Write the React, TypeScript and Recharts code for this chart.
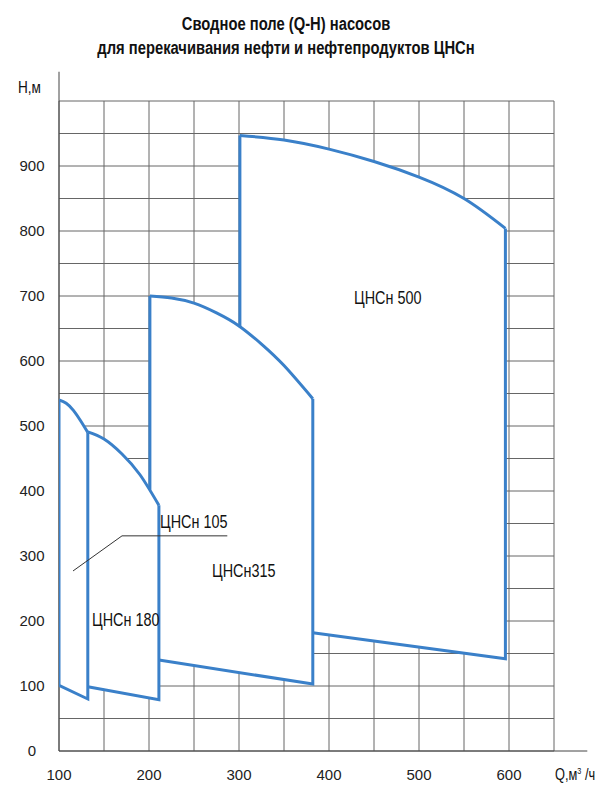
import React from 'react';
import { ComposedChart, Area, Line, XAxis, YAxis, CartesianGrid, ReferenceLine } from 'recharts';

// Q (м³/ч) points along each pump field, top (max head) and bottom (min head) in metres
const Q_105 = [100, 108, 116, 124, 132];
const TOP_105 = [540, 535, 524, 508, 490];
const BOTTOM_105 = [101, 96, 91, 85, 80];

const Q_180 = [132, 150, 170, 190, 211];
const TOP_180 = [491, 480, 457, 425, 378];
const BOTTOM_180 = [99, 94, 89, 84, 79];

const Q_315 = [201, 225, 250, 275, 300, 325, 350, 382];
const TOP_315 = [700, 697, 689, 674, 654, 626, 593, 542];
const BOTTOM_315 = [142, 137, 131, 126, 120, 115, 110, 103];

const Q_500 = [301, 350, 400, 450, 500, 550, 596];
const TOP_500 = [947, 940, 926, 907, 883, 850, 804];
const BOTTOM_500 = [197, 188, 179, 169, 160, 151, 142];

// visible straight edges [Q, H] (the parts hidden behind the next field are left out)
const EDGES: number[][][] = [
  [[301, 652], [301, 947]],
  [[596, 804], [596, 142], [382, 182]],
  [[201, 402], [201, 700]],
  [[382, 542], [382, 103], [211, 140]],
  [[211, 378], [211, 79], [132, 99]],
  [[132, 490], [132, 80], [100, 101], [100, 540]],
];

// leader line for the ЦНСн 105 caption
const LEADER = [[115.6, 277], [170, 331], [287, 331]];

const X_TICKS = [100, 150, 200, 250, 300, 350, 400, 450, 500, 550, 600, 650];
const Y_TICKS = [0, 50, 100, 150, 200, 250, 300, 350, 400, 450, 500, 550, 600, 650, 700, 750, 800, 850, 900, 950, 1000];

const BLUE = '#3a80c9';
const FONT = "'Liberation Sans', Arial, sans-serif";

const MARGIN = { top: 101, right: 41, bottom: 48, left: 58 };
const W = 595;
const H = 800;
const PLOT_BOTTOM = H - MARGIN.bottom - 1;

const band = (qs: number[], lo: number[], hi: number[]) =>
  qs.map((q, i) => ({ q, band: [lo[i], hi[i]] }));
const curve = (qs: number[], hs: number[]) => qs.map((q, i) => ({ q, h: hs[i] }));
const pts = (arr: number[][]) => arr.map(([q, h]) => ({ q, h }));

const FIELDS = [
  { q: Q_500, top: TOP_500, bottom: BOTTOM_500 },
  { q: Q_315, top: TOP_315, bottom: BOTTOM_315 },
  { q: Q_180, top: TOP_180, bottom: BOTTOM_180 },
  { q: Q_105, top: TOP_105, bottom: BOTTOM_105 },
];

const renderXTick = (p: any) => {
  const v = p.payload.value;
  if (v % 100 !== 0 || v > 600) return <g />;
  return (
    <text x={p.x} y={PLOT_BOTTOM + 29} textAnchor="middle" fontSize={15} fill="#222" fontFamily={FONT}>
      {v}
    </text>
  );
};

const renderYTick = (p: any) => {
  const v = p.payload.value;
  if (v % 100 !== 0 || v > 900) return <g />;
  return (
    <text x={32} y={p.y + 5} textAnchor="middle" fontSize={15} fill="#222" fontFamily={FONT}>
      {v}
    </text>
  );
};

const label = (left: number, top: number, size = 18): React.CSSProperties => ({
  position: 'absolute', left, top, fontSize: size, lineHeight: 1, whiteSpace: 'nowrap', color: '#111',
  transform: 'scaleX(0.8)', transformOrigin: 'left center',
});

const titleLine = (top: number): React.CSSProperties => ({
  position: 'absolute', left: 0, width: 572, top, textAlign: 'center', fontWeight: 'bold', fontSize: 18,
  lineHeight: 1, color: '#111', transform: 'scaleX(0.82)', transformOrigin: '286px center', whiteSpace: 'nowrap',
});

export default function App() {
  return (
    <div style={{ position: 'absolute', left: 0, top: 0, width: W, height: H, background: '#fff', fontFamily: FONT }}>
      <div style={titleLine(15)}>Сводное поле (Q-H) насосов</div>
      <div style={titleLine(39)}>для перекачивания нефти и нефтепродуктов ЦНСн</div>

      <ComposedChart width={W} height={H} margin={MARGIN}>
        <CartesianGrid stroke="#666" strokeWidth={1} />
        <XAxis type="number" dataKey="q" domain={[100, 650]} ticks={X_TICKS} height={1}
          axisLine={false} tickLine={false} tick={renderXTick} interval={0} allowDataOverflow />
        <YAxis type="number" domain={[0, 1000]} ticks={Y_TICKS} width={1}
          axisLine={false} tickLine={false} tick={renderYTick} interval={0} allowDataOverflow />

        <ReferenceLine segment={[{ x: 100, y: 0 }, { x: 687, y: 0 }]} stroke="#444" ifOverflow="visible" />
        <ReferenceLine segment={[{ x: 100, y: 0 }, { x: 100, y: 1045 }]} stroke="#444" ifOverflow="visible" />

        {FIELDS.map((f, i) => (
          <Area key={`fill-${i}`} data={band(f.q, f.bottom, f.top)} dataKey="band" type="natural"
            stroke="none" fill="#fff" fillOpacity={1} isAnimationActive={false} />
        ))}

        {FIELDS.map((f, i) => (
          <Line key={`top-${i}`} data={curve(f.q, f.top)} dataKey="h" type="natural"
            stroke={BLUE} strokeWidth={3} dot={false} isAnimationActive={false} />
        ))}

        {EDGES.map((e, i) => (
          <Line key={`edge-${i}`} data={pts(e)} dataKey="h" type="linear"
            stroke={BLUE} strokeWidth={3} dot={false} isAnimationActive={false} />
        ))}

        <Line data={pts(LEADER)} dataKey="h" type="linear" stroke="#333" strokeWidth={1}
          dot={false} isAnimationActive={false} />
      </ComposedChart>

      <div style={label(18, 79, 17)}>Н,м</div>
      <div style={label(555, 767, 16)}>Q,м<sup style={{ fontSize: 9 }}>3</sup> /ч</div>
      <div style={label(354, 289)}>ЦНСн 500</div>
      <div style={label(212, 562)}>ЦНСн315</div>
      <div style={label(160, 513)}>ЦНСн 105</div>
      <div style={label(92, 611)}>ЦНСн 180</div>
    </div>
  );
}
